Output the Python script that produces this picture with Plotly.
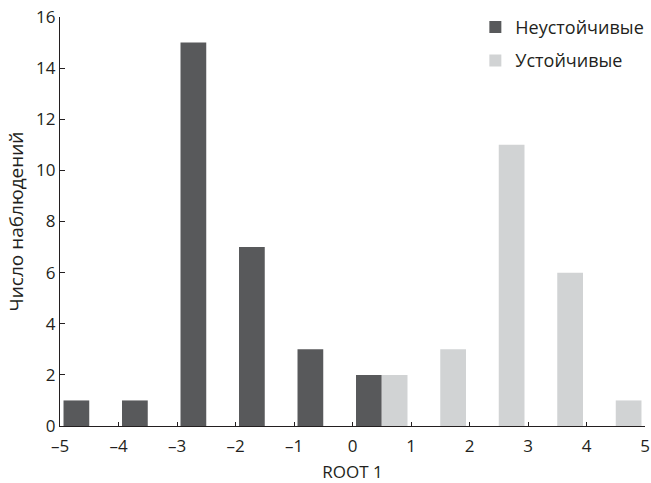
import plotly.graph_objects as go

# Data
bin_centers = [-4.5, -3.5, -2.5, -1.5, -0.5, 0.5, 1.5, 2.5, 3.5, 4.5]
unstable = [1, 1, 15, 7, 3, 2, 0, 0, 0, 0]
stable = [0, 0, 0, 0, 0, 2, 3, 11, 6, 1]
series_names = ["Неустойчивые", "Устойчивые"]
x_tickvals = [-5, -4, -3, -2, -1, 0, 1, 2, 3, 4, 5]
x_ticktext = ["–5", "–4", "–3", "–2", "–1", "0", "1", "2", "3", "4", "5"]
y_tickvals = [0, 2, 4, 6, 8, 10, 12, 14, 16]

FONT = "Open Sans"
TXT = "#231f20"
DARK = "#58595b"
LIGHT = "#d1d3d4"

fig = go.Figure()
fig.add_trace(go.Bar(x=bin_centers, y=unstable, name=series_names[0],
                     marker=dict(color=DARK, line=dict(width=0)),
                     legendgroup="a"))
fig.add_trace(go.Bar(x=bin_centers, y=stable, name=series_names[1],
                     marker=dict(color=LIGHT, line=dict(width=0)),
                     legendgroup="b"))

fig.update_layout(
    width=651, height=483,
    margin=dict(l=60, r=6, t=17, b=57, autoexpand=False),
    paper_bgcolor="white", plot_bgcolor="white",
    barmode="group", bargap=0.12, bargroupgap=0,
    font=dict(family=FONT, size=17, color=TXT),
    showlegend=True,
    legend=dict(x=0.71, y=1.02, xanchor="left", yanchor="top",
                bgcolor="rgba(0,0,0,0)", tracegroupgap=7,
                font=dict(size=18, family=FONT, color=TXT)),
    xaxis=dict(range=[-5, 5], tickvals=x_tickvals, ticktext=x_ticktext,
               ticks="inside", ticklen=4, tickwidth=1, tickcolor=TXT,
               showline=True, linecolor=TXT, linewidth=1.3,
               showgrid=False, zeroline=False, automargin=False,
               ticklabeloverflow="allow", ticklabelstandoff=4,
               tickfont=dict(size=17),
               title=dict(text="ROOT 1", standoff=17,
                          font=dict(size=17, family=FONT))),
    yaxis=dict(range=[0, 16], tickvals=y_tickvals,
               ticks="inside", ticklen=5, tickwidth=1, tickcolor=TXT,
               showline=True, linecolor=TXT, linewidth=1.3,
               showgrid=False, zeroline=False, automargin=False,
               ticklabeloverflow="allow",
               tickfont=dict(size=17),
               title=dict(text="Число наблюдений", standoff=7,
                          font=dict(size=19, family=FONT))),
)

fig.write_html("out.html",
               config={"displayModeBar": False},
               post_script="document.body.style.margin='0';"
                           "document.body.style.padding='0';")
